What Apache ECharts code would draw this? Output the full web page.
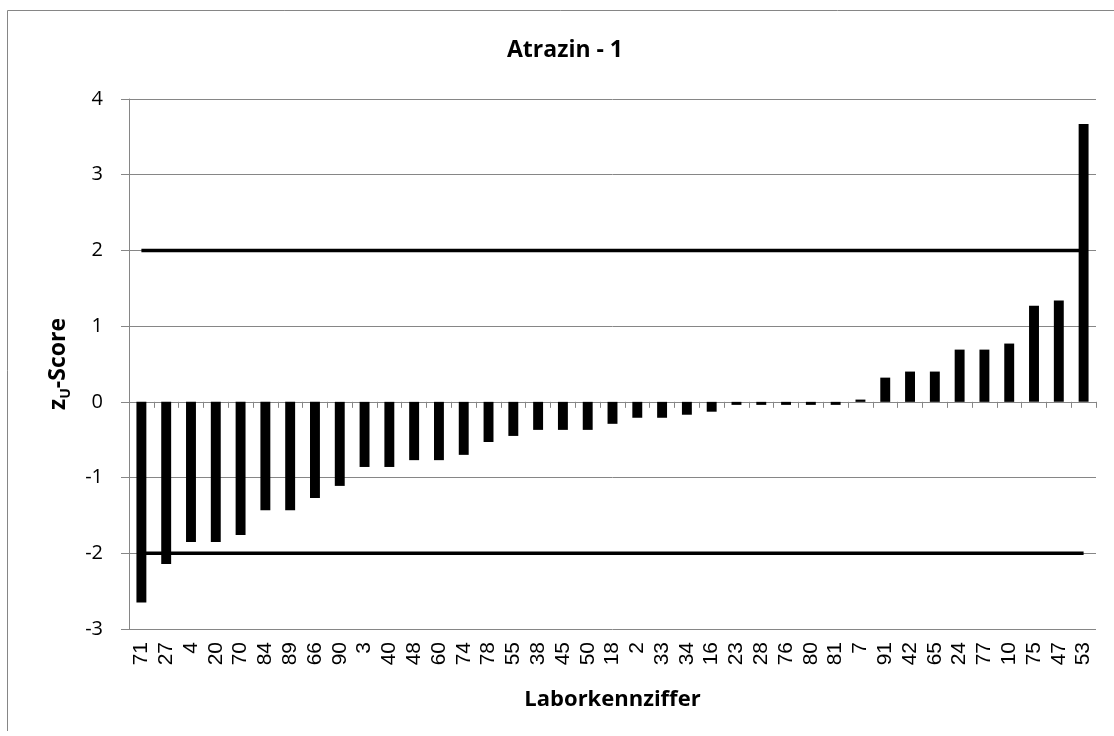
<!DOCTYPE html>
<html>
<head>
<meta charset="utf-8">
<script src="https://cdn.jsdelivr.net/npm/echarts@6/dist/echarts.min.js"></script>
<style>
html,body{margin:0;padding:0;background:#fff;}
#chart{width:1114px;height:736px;}
</style>
</head>
<body>
<div id="chart"></div>
<script>
var labs = ['71','27','4','20','70','84','89','66','90','3','40','48','60','74','78','55','38','45','50','18','2','33','34','16','23','28','76','80','81','7','91','42','65','24','77','10','75','47','53'];
var zScores = [-2.65,-2.14,-1.85,-1.85,-1.76,-1.43,-1.43,-1.27,-1.11,-0.86,-0.86,-0.77,-0.77,-0.70,-0.53,-0.45,-0.37,-0.37,-0.37,-0.29,-0.21,-0.21,-0.17,-0.13,-0.04,-0.04,-0.04,-0.04,-0.04,0.03,0.32,0.40,0.40,0.69,0.69,0.77,1.27,1.34,3.67];
var upperLimit = labs.map(function(){return 2;});
var lowerLimit = labs.map(function(){return -2;});
var yTicks = {min:-3, max:4, interval:1};

var chart = echarts.init(document.getElementById('chart'), null, {renderer:'canvas'});
var gray = '#868686';
chart.setOption({
  animation:false,
  backgroundColor:'#fff',
  grid:{left:129, right:18, top:99, bottom:107, containLabel:false},
  graphic:[
    {type:'polyline', shape:{points:[[7.5,731],[7.5,10.5],[1114,10.5]]}, style:{stroke:gray, lineWidth:1, fill:null}},
    {type:'text', x:565, y:50, style:{text:'Atrazin - 1', font:'bold 23px "Open Sans"', fill:'#000', textAlign:'center', textVerticalAlign:'middle'}}
  ],
  xAxis:[
    {type:'category', data:labs, position:'bottom',
     axisLine:{show:false, onZero:false}, axisTick:{show:false},
     axisLabel:{rotate:90, fontSize:21, fontFamily:'"Liberation Sans"', color:'#000', margin:13, interval:0},
     name:'Laborkennziffer', nameLocation:'middle', nameGap:60,
     nameTextStyle:{fontSize:22, fontWeight:'bold', fontFamily:'"Open Sans"', color:'#000'}},
    {type:'category', data:labs, position:'top',
     axisLine:{show:true, onZero:true, lineStyle:{color:gray, width:1}},
     axisTick:{show:true, inside:true, length:6, lineStyle:{color:gray}},
     axisLabel:{show:false}}
  ],
  yAxis:{type:'value', min:yTicks.min, max:yTicks.max, interval:yTicks.interval,
    axisLine:{show:true, lineStyle:{color:gray}},
    axisTick:{show:true, length:8, lineStyle:{color:gray}},
    splitLine:{show:true, lineStyle:{color:gray, width:1}},
    axisLabel:{fontSize:20, fontFamily:'"Open Sans"', color:'#000', margin:26},
    name:'{a|z}{b|U}{a|-Score}', nameLocation:'middle', nameGap:56,
    nameTextStyle:{rich:{
      a:{fontSize:23, fontWeight:'bold', fontFamily:'"Open Sans"', color:'#000', lineHeight:30, verticalAlign:'middle'},
      b:{fontSize:14, fontWeight:'bold', fontFamily:'"Open Sans"', color:'#000', lineHeight:16, verticalAlign:'bottom'}
    }}
  },
  series:[
    {type:'line', data:upperLimit, xAxisIndex:0, symbol:'none', lineStyle:{color:'#000', width:3.5}, z:1},
    {type:'line', data:lowerLimit, xAxisIndex:0, symbol:'none', lineStyle:{color:'#000', width:3.5}, z:1},
    {type:'bar', data:zScores, xAxisIndex:0, barWidth:'40%', itemStyle:{color:'#000'}, z:2}
  ]
});
</script>
</body>
</html>
